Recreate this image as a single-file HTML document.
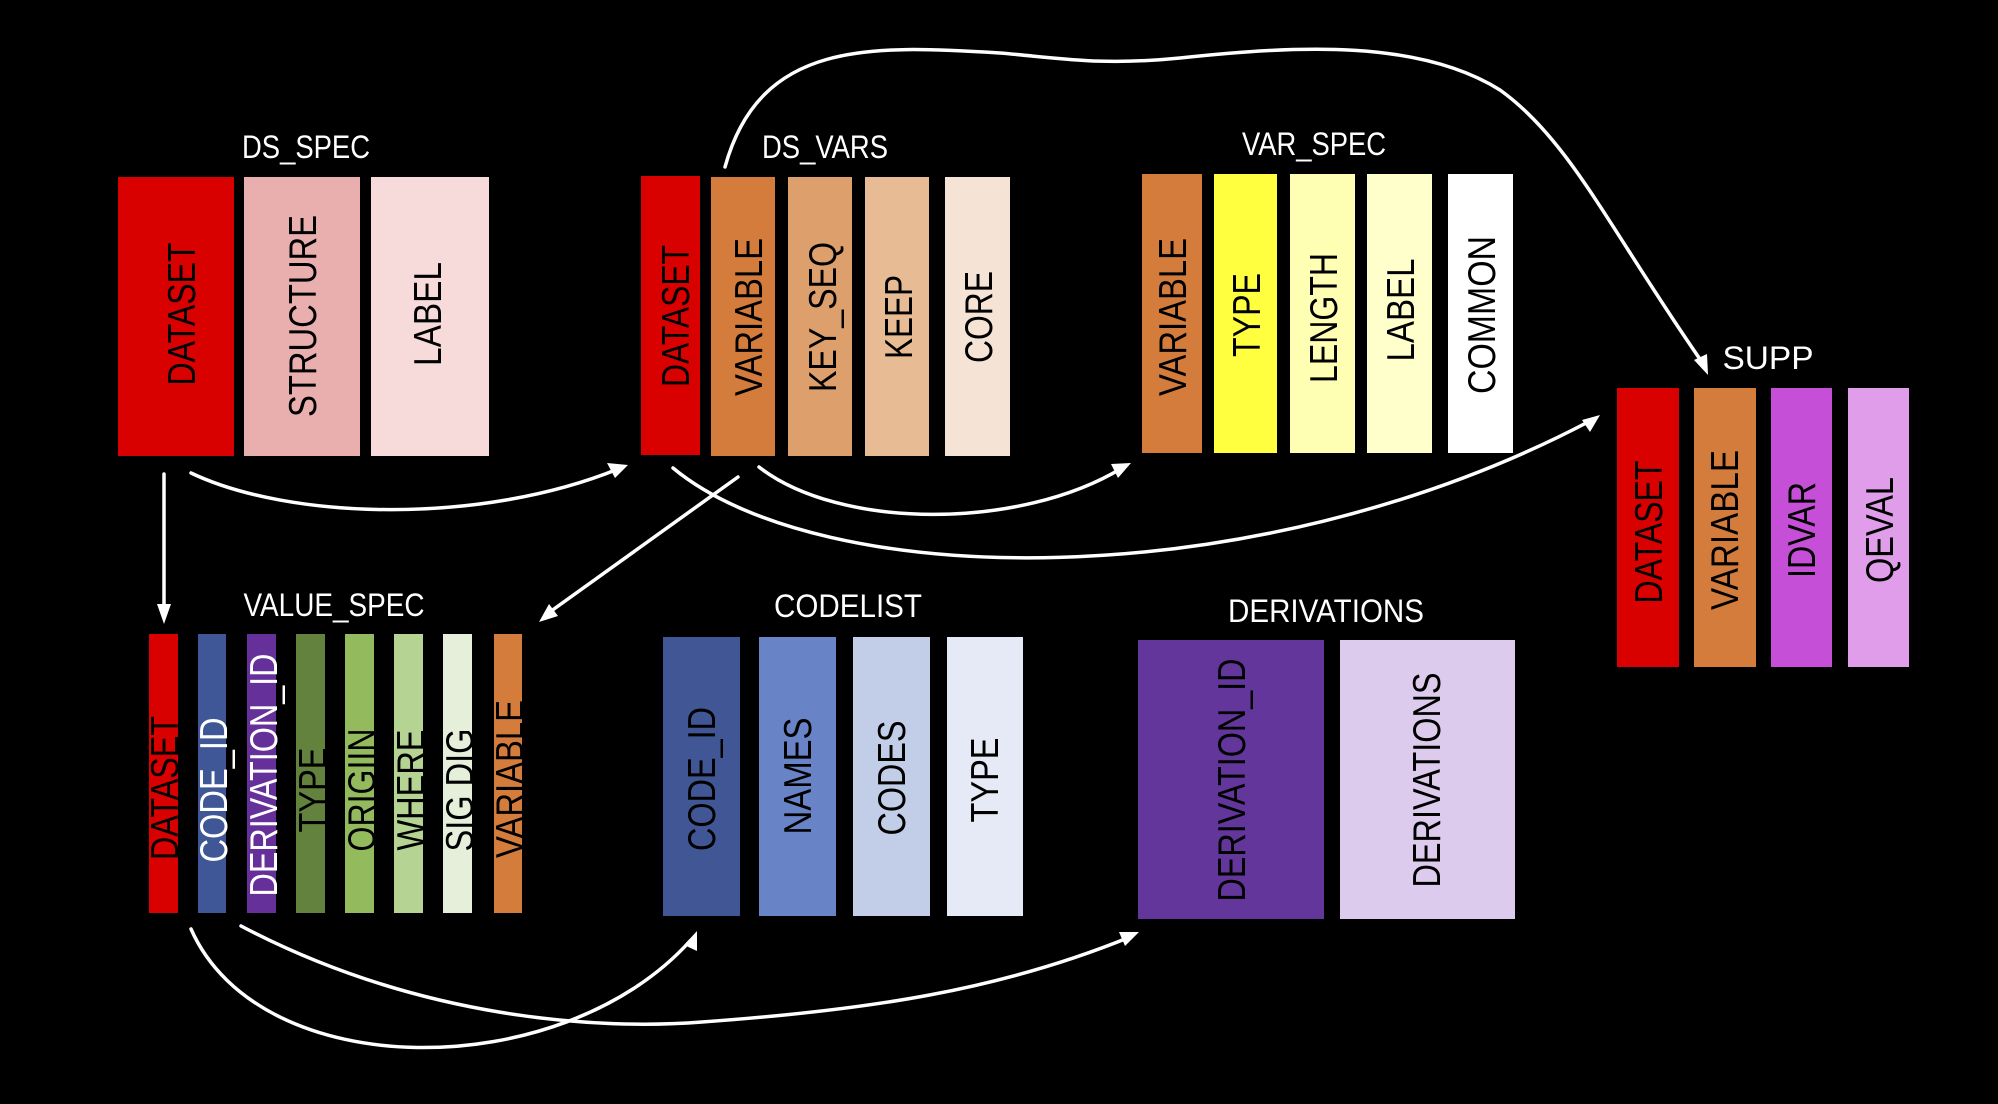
<!DOCTYPE html>
<html><head><meta charset="utf-8"><style>html,body{margin:0;padding:0;background:#000;}svg{display:block}</style></head>
<body>
<svg width="1998" height="1104" viewBox="0 0 1998 1104" xmlns="http://www.w3.org/2000/svg" font-family="Liberation Sans, Arial, sans-serif">
<rect width="1998" height="1104" fill="#000"/>
<g fill="#fff" font-size="32">
<text x="306" y="158" text-anchor="middle" textLength="128" lengthAdjust="spacingAndGlyphs">DS_SPEC</text>
<text x="825" y="158" text-anchor="middle" textLength="126" lengthAdjust="spacingAndGlyphs">DS_VARS</text>
<text x="1314" y="155" text-anchor="middle" textLength="144" lengthAdjust="spacingAndGlyphs">VAR_SPEC</text>
<text x="1768" y="369" text-anchor="middle" textLength="91" lengthAdjust="spacingAndGlyphs">SUPP</text>
<text x="334" y="616" text-anchor="middle" textLength="181" lengthAdjust="spacingAndGlyphs">VALUE_SPEC</text>
<text x="848" y="617" text-anchor="middle" textLength="148" lengthAdjust="spacingAndGlyphs">CODELIST</text>
<text x="1326" y="622" text-anchor="middle" textLength="196" lengthAdjust="spacingAndGlyphs">DERIVATIONS</text>
</g>
<g>
<rect x="118" y="177" width="116" height="279" fill="#d90000"/>
<rect x="244" y="177" width="116" height="279" fill="#e9afaf"/>
<rect x="371" y="177" width="118" height="279" fill="#f7dbdb"/>
<rect x="641" y="176" width="59" height="279" fill="#d90000"/>
<rect x="711" y="177" width="64" height="279" fill="#d47c3c"/>
<rect x="788" y="177" width="64" height="279" fill="#dda06c"/>
<rect x="865" y="177" width="64" height="279" fill="#e7bb94"/>
<rect x="945" y="177" width="65" height="279" fill="#f5e3d6"/>
<rect x="1142" y="174" width="60" height="279" fill="#d47c3c"/>
<rect x="1214" y="174" width="63" height="279" fill="#ffff40"/>
<rect x="1290" y="174" width="65" height="279" fill="#ffffb3"/>
<rect x="1367" y="174" width="65" height="279" fill="#ffffcc"/>
<rect x="1448" y="174" width="65" height="279" fill="#ffffff"/>
<rect x="1617" y="388" width="62" height="279" fill="#d90000"/>
<rect x="1694" y="388" width="62" height="279" fill="#d47c3c"/>
<rect x="1771" y="388" width="61" height="279" fill="#c64fd8"/>
<rect x="1848" y="388" width="61" height="279" fill="#e09eea"/>
<rect x="149" y="634" width="29" height="279" fill="#d90000"/>
<rect x="198" y="634" width="28" height="279" fill="#3f5796"/>
<rect x="247" y="634" width="29" height="279" fill="#653099"/>
<rect x="296" y="634" width="29" height="279" fill="#62823e"/>
<rect x="345" y="634" width="29" height="279" fill="#93ba5d"/>
<rect x="394" y="634" width="29" height="279" fill="#b5d493"/>
<rect x="443" y="634" width="29" height="279" fill="#e5efda"/>
<rect x="494" y="634" width="28" height="279" fill="#d47c3c"/>
<rect x="663" y="637" width="77" height="279" fill="#415695"/>
<rect x="759" y="637" width="77" height="279" fill="#6883c6"/>
<rect x="853" y="637" width="77" height="279" fill="#c2cde8"/>
<rect x="947" y="637" width="76" height="279" fill="#e6eaf6"/>
<rect x="1138" y="640" width="186" height="279" fill="#62369a"/>
<rect x="1340" y="640" width="175" height="279" fill="#dccbed"/>
</g>
<g font-size="39" fill="#000" text-anchor="middle">
<text transform="translate(195,314) rotate(-90)" textLength="143" lengthAdjust="spacingAndGlyphs">DATASET</text>
<text transform="translate(316,316) rotate(-90)" textLength="202" lengthAdjust="spacingAndGlyphs">STRUCTURE</text>
<text transform="translate(441,314) rotate(-90)" textLength="104" lengthAdjust="spacingAndGlyphs">LABEL</text>
<text transform="translate(689,316) rotate(-90)" textLength="142" lengthAdjust="spacingAndGlyphs">DATASET</text>
<text transform="translate(762,317) rotate(-90)" textLength="158" lengthAdjust="spacingAndGlyphs">VARIABLE</text>
<text transform="translate(836,317) rotate(-90)" textLength="150" lengthAdjust="spacingAndGlyphs">KEY_SEQ</text>
<text transform="translate(912,317) rotate(-90)" textLength="84" lengthAdjust="spacingAndGlyphs">KEEP</text>
<text transform="translate(992,317) rotate(-90)" textLength="92" lengthAdjust="spacingAndGlyphs">CORE</text>
<text transform="translate(1186,317) rotate(-90)" textLength="158" lengthAdjust="spacingAndGlyphs">VARIABLE</text>
<text transform="translate(1260,315) rotate(-90)" textLength="84" lengthAdjust="spacingAndGlyphs">TYPE</text>
<text transform="translate(1337,318) rotate(-90)" textLength="130" lengthAdjust="spacingAndGlyphs">LENGTH</text>
<text transform="translate(1414,310) rotate(-90)" textLength="103" lengthAdjust="spacingAndGlyphs">LABEL</text>
<text transform="translate(1495,315) rotate(-90)" textLength="158" lengthAdjust="spacingAndGlyphs">COMMON</text>
<text transform="translate(1662,532) rotate(-90)" textLength="143" lengthAdjust="spacingAndGlyphs">DATASET</text>
<text transform="translate(1738,530) rotate(-90)" textLength="160" lengthAdjust="spacingAndGlyphs">VARIABLE</text>
<text transform="translate(1815,530) rotate(-90)" textLength="96" lengthAdjust="spacingAndGlyphs">IDVAR</text>
<text transform="translate(1893,530) rotate(-90)" textLength="106" lengthAdjust="spacingAndGlyphs">QEVAL</text>
<text transform="translate(178,788) rotate(-90)" textLength="144" lengthAdjust="spacingAndGlyphs">DATASET</text>
<text transform="translate(227,790) rotate(-90)" textLength="145" lengthAdjust="spacingAndGlyphs" fill="#fff">CODE_ID</text>
<text transform="translate(277,775) rotate(-90)" textLength="243" lengthAdjust="spacingAndGlyphs" fill="#fff">DERIVATION_ID</text>
<text transform="translate(326,790) rotate(-90)" textLength="85" lengthAdjust="spacingAndGlyphs">TYPE</text>
<text transform="translate(375,790) rotate(-90)" textLength="123" lengthAdjust="spacingAndGlyphs">ORIGIIN</text>
<text transform="translate(424,790) rotate(-90)" textLength="121" lengthAdjust="spacingAndGlyphs">WHERE</text>
<text transform="translate(473,790) rotate(-90)" textLength="123" lengthAdjust="spacingAndGlyphs">SIG DIG</text>
<text transform="translate(523,779) rotate(-90)" textLength="158" lengthAdjust="spacingAndGlyphs">VARIABLE</text>
<text transform="translate(715,779) rotate(-90)" textLength="144" lengthAdjust="spacingAndGlyphs">CODE_ID</text>
<text transform="translate(811,776) rotate(-90)" textLength="117" lengthAdjust="spacingAndGlyphs">NAMES</text>
<text transform="translate(905,778) rotate(-90)" textLength="115" lengthAdjust="spacingAndGlyphs">CODES</text>
<text transform="translate(998,780) rotate(-90)" textLength="85" lengthAdjust="spacingAndGlyphs">TYPE</text>
<text transform="translate(1245,780) rotate(-90)" textLength="243" lengthAdjust="spacingAndGlyphs">DERIVATION_ID</text>
<text transform="translate(1440,780) rotate(-90)" textLength="215" lengthAdjust="spacingAndGlyphs">DERIVATIONS</text>
</g>
<g fill="none" stroke="#fff" stroke-width="3.5" stroke-linecap="round">
<path d="M164,474 L164,610"/>
<path d="M191,473 C290,520 480,525 618,469"/>
<path d="M725,167 C760,40 870,45 1000,53 C1060,58 1100,66 1180,58 C1300,45 1420,40 1500,90 C1570,140 1610,230 1704,365"/>
<path d="M673,468 C820,590 1250,600 1590,421"/>
<path d="M759,467 C840,530 1020,530 1122,468"/>
<path d="M738,477 L547,614"/>
<path d="M191,929 C260,1085 560,1085 690,941"/>
<path d="M241,926 C420,1020 600,1030 702,1022 C870,1010 1000,990 1130,937"/>
</g>
<g fill="#fff">
<polygon points="164,624 157,604 171,604"/>
<polygon points="628,465 607,463 615,478"/>
<polygon points="1708,375 1694,360 1707,354"/>
<polygon points="1600,415 1582,420 1590,432"/>
<polygon points="1131,463 1111,464 1118,478"/>
<polygon points="539,622 549,604 558,616"/>
<polygon points="697,931 684,945 697,951"/>
<polygon points="1139,932 1119,932 1125,946"/>
</g>
</svg>
</body></html>
